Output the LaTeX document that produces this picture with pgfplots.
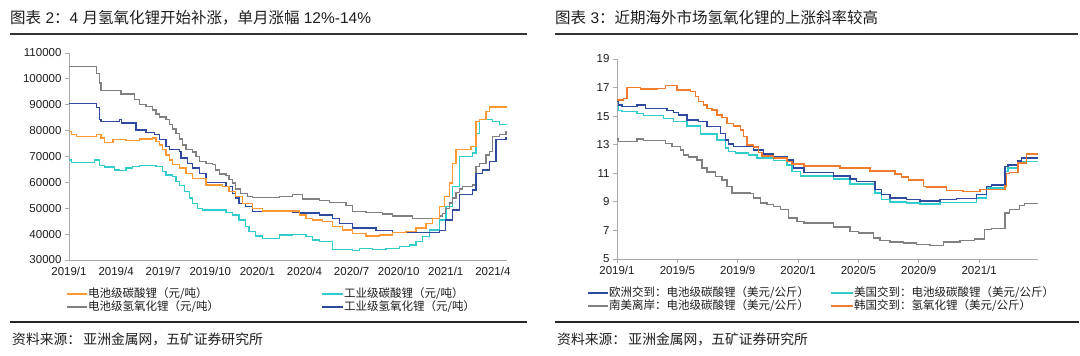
\documentclass[border=0pt]{standalone}
\usepackage{fontspec}
\setmainfont{Liberation Sans}
\newfontfamily\cjk{Noto Sans CJK SC}
\usepackage{pgfplots}
\pgfplotsset{compat=1.18}
\definecolor{lorange}{RGB}{255,153,51}
\definecolor{lcyan}{RGB}{51,204,204}
\definecolor{lgray}{RGB}{128,128,128}
\definecolor{lblue}{RGB}{46,74,158}
\definecolor{rorange}{RGB}{240,124,48}
\definecolor{axgray}{RGB}{170,170,170}
\definecolor{txt}{RGB}{30,30,30}
\pgfplotsset{mystyle/.style={
  scale only axis,
  axis x line=bottom, axis y line=left,
  axis line style={-, draw=axgray, line width=0.9pt},
  tick style={draw=axgray, line width=0.9pt},
  major tick length=4pt, tick align=outside,
  ticklabel style={font=\fontsize{11.5}{13}\selectfont, text=txt},
  /pgf/number format/fixed,
  /pgf/number format/assume math mode=true,
  /pgf/number format/1000 sep={},
  scaled y ticks=false,
  every axis plot/.append style={const plot, line width=1.4pt, no markers},
}}
\begin{document}
\begin{tikzpicture}
\fill[white] (0,0) rectangle (1080pt,-356pt);
\path[use as bounding box] (0,0) rectangle (1080pt,-356pt);
% ---------- left panel ----------
\node[anchor=west, inner sep=0pt, font=\fontsize{15.5}{17}\selectfont, text=txt] at (10pt,-18pt) {{\cjk 图表} 2{\cjk ：}4 {\cjk 月氢氧化锂开始补涨，单月涨幅} 12\%-14\%};
\draw[line width=1.8pt, color=black!80] (10pt,-34pt) -- (527pt,-34pt);
\begin{axis}[mystyle, at={(69pt,-260pt)}, anchor=origin, width=438pt, height=207pt,
  xmin=0, xmax=27.9, ymin=30000, ymax=110000,
  ytick={30000,40000,...,110000},
  xtick={0,3,...,27}, xtick style={draw=none},
  xticklabels={2019/1,2019/4,2019/7,2019/10,2020/1,2020/4,2020/7,2020/10,2021/1,2021/4}]
\addplot[lcyan] coordinates {(0,68700) (0.15,67700) (1.63,68700) (1.95,66500) (2.26,65900) (2.9,64800) (3.22,64500) (3.64,65500) (4.06,66100) (4.49,66500) (5.54,66100) (5.97,64200) (6.18,62900) (6.6,62300) (6.81,60300) (7.03,58800) (7.34,56500) (7.66,53900) (7.87,51900) (8.19,50000) (8.51,49400) (9.99,48400) (10.41,47400) (10.84,45500) (11.26,42900) (11.47,41000) (11.89,39300) (12.32,38400) (13.4,39700) (14.25,39900) (15.1,39000) (15.52,37700) (15.95,37100) (16.8,34100) (18.07,33600) (18.5,34500) (19.35,34100) (20.2,34500) (21.04,35200) (21.68,35800) (22.1,37100) (22.53,39000) (22.95,41600) (23.59,45500) (24.02,50600) (24.44,58400) (24.87,70000) (25.72,71300) (25.93,79000) (26.14,84200) (26.99,83500) (27.42,82300) (27.9,82300)};
\addplot[lgray] coordinates {(0,104800) (1.74,102000) (1.95,98400) (2.05,95500) (3.3,94200) (4.17,92000) (4.49,90000) (4.91,89400) (5.33,88000) (5.54,86500) (5.76,85200) (6.18,84200) (6.39,82300) (6.6,80600) (6.81,79000) (7.03,76800) (7.24,74500) (7.45,72600) (7.87,71700) (8.08,70000) (8.3,68100) (8.72,67400) (9.14,66800) (9.35,64800) (9.57,63300) (9.99,62600) (10.2,61000) (10.41,59700) (10.62,57500) (10.94,55800) (11.37,54500) (11.68,54100) (13.4,54500) (14.25,55200) (14.89,53500) (15.95,53100) (16.59,52200) (17.65,51000) (18.07,48700) (18.92,48300) (19.98,47800) (20.62,47000) (21.89,46000) (23.59,47000) (23.8,48000) (24.0,50000) (24.22,52000) (24.44,54000) (24.65,56000) (24.87,57500) (25.08,58400) (25.72,59000) (25.93,66100) (26.14,67400) (26.57,70600) (26.78,72000) (26.99,77700) (27.42,78400) (27.84,79700) (27.9,79700)};
\addplot[lblue] coordinates {(0,90500) (1.74,89000) (1.95,84200) (2.05,83500) (3.22,84200) (3.33,82900) (4.28,80300) (4.91,79300) (5.44,78400) (5.76,76500) (6.18,73900) (6.39,72800) (7.03,71900) (7.13,69400) (7.56,67400) (7.87,65500) (8.3,63500) (8.72,59900) (9.99,58400) (10.41,55800) (10.62,53900) (10.84,51900) (11.26,50600) (11.68,48700) (14.25,48400) (14.67,48100) (15.95,47400) (16.8,46100) (17.22,44200) (18.07,42300) (19.56,41400) (20.62,40700) (23.59,41500) (24.0,45500) (24.44,49400) (24.87,55200) (25.72,57100) (25.93,63500) (26.35,64800) (26.78,68100) (27.2,76500) (27.84,77200) (27.9,77200)};
\addplot[lorange] coordinates {(0,79700) (0.15,78400) (0.47,77700) (1.74,78600) (2.05,77100) (2.26,75500) (2.79,76500) (3.64,76200) (4.49,76700) (5.33,77100) (5.54,75800) (5.76,74500) (5.97,72600) (6.18,70600) (6.39,68700) (6.6,66800) (7.03,65500) (7.45,63500) (7.87,61600) (8.72,59000) (9.78,58400) (10.2,56500) (10.62,54500) (11.05,51900) (11.68,50000) (12.32,49000) (14.68,47400) (15.1,46100) (15.52,45500) (16.16,44800) (16.8,42900) (17.44,41600) (18.07,40300) (18.92,39300) (19.77,39700) (20.62,40600) (21.47,41000) (22.1,42300) (22.74,44200) (23.17,46100) (23.59,50600) (23.91,54500) (24.23,59700) (24.44,67400) (24.65,72600) (25.61,73900) (25.93,83500) (26.14,84200) (26.57,87400) (26.78,89200) (27.9,89200)};
\end{axis}
% left legend
\begin{scope}[font=\fontsize{11.5}{13}\selectfont\cjk, text=txt]
\draw[lorange, line width=1.6pt] (67pt,-294pt) -- (87pt,-294pt);
\node[anchor=west, inner sep=0pt] at (88pt,-294pt) {电池级碳酸锂（元/吨）};
\draw[lgray, line width=1.6pt] (67pt,-307pt) -- (87pt,-307pt);
\node[anchor=west, inner sep=0pt] at (88pt,-307pt) {电池级氢氧化锂（元/吨）};
\draw[lcyan, line width=1.6pt] (322pt,-294pt) -- (343pt,-294pt);
\node[anchor=west, inner sep=0pt] at (344pt,-294pt) {工业级碳酸锂（元/吨）};
\draw[lblue, line width=1.6pt] (322pt,-307pt) -- (343pt,-307pt);
\node[anchor=west, inner sep=0pt] at (344pt,-307pt) {工业级氢氧化锂（元/吨）};
\end{scope}
\draw[line width=1.8pt, color=black!85] (10pt,-322pt) -- (527pt,-322pt);
\node[anchor=west, inner sep=0pt, font=\fontsize{13.8}{15}\selectfont\cjk, text=txt] at (12pt,-339pt) {资料来源：\,亚洲金属网，五矿证券研究所};
% ---------- right panel ----------
\node[anchor=west, inner sep=0pt, font=\fontsize{15.5}{17}\selectfont, text=txt] at (555pt,-18pt) {{\cjk 图表} 3{\cjk ：近期海外市场氢氧化锂的上涨斜率较高}};
\draw[line width=1.8pt, color=black!80] (555pt,-34pt) -- (1078pt,-34pt);
\begin{axis}[mystyle, at={(617pt,-259pt)}, anchor=origin, width=421pt, height=200pt,
  xmin=0, xmax=27.9, ymin=5, ymax=19,
  ytick={5,7,...,19},
  xtick={0,4,...,24},
  xticklabels={2019/1,2019/5,2019/9,2020/1,2020/5,2020/9,2021/1}]
\addplot[lgray] coordinates {(0,13.41) (0.11,13.22) (1.33,13.39) (1.77,13.29) (3.2,13.1) (3.65,12.87) (4.2,12.64) (4.42,12.29) (4.75,12.13) (5.3,11.94) (5.63,11.36) (5.97,11.08) (6.52,10.78) (6.96,10.54) (7.29,10.08) (7.62,9.61) (8.84,9.57) (9.06,9.26) (9.5,8.91) (9.94,8.8) (10.39,8.68) (10.83,8.45) (11.38,7.87) (11.93,7.63) (12.38,7.52) (14.34,7.24) (15.44,6.93) (15.99,6.82) (16.98,6.47) (17.43,6.28) (18.09,6.19) (18.98,6.12) (19.85,6.0) (20.74,5.93) (21.62,6.19) (22.72,6.28) (23.71,6.4) (24.37,7.05) (24.82,7.12) (25.7,8.21) (26.03,8.45) (26.69,8.75) (27.02,8.87) (27.9,8.87)};
\addplot[lcyan] coordinates {(0,15.67) (0.11,15.39) (0.33,15.32) (1.33,15.2) (1.77,15.04) (3.09,14.85) (3.76,14.62) (4.64,14.32) (5.52,13.74) (6.63,13.34) (7.18,12.76) (7.4,12.52) (7.84,12.41) (8.73,12.29) (9.28,12.06) (10.39,11.9) (11.27,11.59) (11.6,11.13) (12.16,10.82) (14.34,10.59) (15.44,10.26) (17.09,9.61) (17.54,9.15) (18.09,8.98) (19.19,8.91) (20.07,8.84) (21.4,8.96) (23.82,9.26) (24.48,9.96) (25.7,11.13) (25.92,11.36) (26.58,11.71) (26.8,11.83) (27.9,11.83)};
\addplot[lblue] coordinates {(0,16.02) (0.11,15.78) (0.33,15.67) (1.33,15.78) (1.88,15.55) (3.31,15.39) (3.76,15.25) (4.09,15.09) (4.64,14.74) (5.41,14.62) (5.97,14.27) (6.85,13.8) (7.18,13.34) (7.4,13.06) (7.73,12.87) (9.06,12.64) (9.72,12.34) (10.39,12.17) (11.27,11.94) (11.71,11.36) (12.38,11.06) (14.34,10.82) (15.44,10.59) (15.88,10.43) (17.09,9.85) (17.54,9.5) (18.09,9.26) (19.19,9.15) (20.07,9.05) (21.4,9.15) (22.5,9.24) (23.82,9.5) (24.48,10.08) (24.82,10.19) (25.7,11.48) (25.92,11.59) (26.58,11.87) (26.8,12.06) (27.9,12.06)};
\addplot[rorange] coordinates {(0,16.13) (0.44,16.25) (0.66,17.0) (1.55,16.9) (2.65,16.95) (3.2,17.14) (3.98,16.83) (4.86,16.72) (5.19,16.37) (5.41,16.02) (5.75,15.78) (5.97,15.55) (6.3,15.44) (6.63,15.09) (6.96,14.92) (7.29,14.5) (7.73,14.32) (8.18,14.04) (8.4,13.57) (8.62,12.99) (9.06,12.83) (9.39,12.45) (9.61,12.22) (10.39,12.06) (11.27,11.83) (11.6,11.66) (12.38,11.52) (14.78,11.36) (16.77,11.17) (18.42,10.96) (18.86,10.73) (19.3,10.54) (20.3,10.08) (20.52,10.03) (21.84,9.8) (22.94,9.73) (24.05,9.85) (25.7,10.1) (25.81,11.0) (26.03,11.06) (26.58,11.71) (27.13,12.36) (27.9,12.36)};
\end{axis}
% right legend
\begin{scope}[font=\fontsize{11.5}{13}\selectfont\cjk, text=txt]
\draw[lblue, line width=1.6pt] (588pt,-293pt) -- (608pt,-293pt);
\node[anchor=west, inner sep=0pt] at (609pt,-293pt) {欧洲交到：电池级碳酸锂（美元/公斤）};
\draw[lgray, line width=1.6pt] (588pt,-306pt) -- (608pt,-306pt);
\node[anchor=west, inner sep=0pt] at (609pt,-306pt) {南美离岸：电池级碳酸锂（美元/公斤）};
\draw[lcyan, line width=1.6pt] (831pt,-293pt) -- (853pt,-293pt);
\node[anchor=west, inner sep=0pt] at (854pt,-293pt) {美国交到：电池级碳酸锂（美元/公斤）};
\draw[rorange, line width=1.6pt] (831pt,-306pt) -- (853pt,-306pt);
\node[anchor=west, inner sep=0pt] at (854pt,-306pt) {韩国交到：氢氧化锂（美元/公斤）};
\end{scope}
\draw[line width=1.8pt, color=black!85] (555pt,-322pt) -- (1079pt,-322pt);
\node[anchor=west, inner sep=0pt, font=\fontsize{13.8}{15}\selectfont\cjk, text=txt] at (557pt,-339pt) {资料来源：\,亚洲金属网，五矿证券研究所};
\end{tikzpicture}
\end{document}
